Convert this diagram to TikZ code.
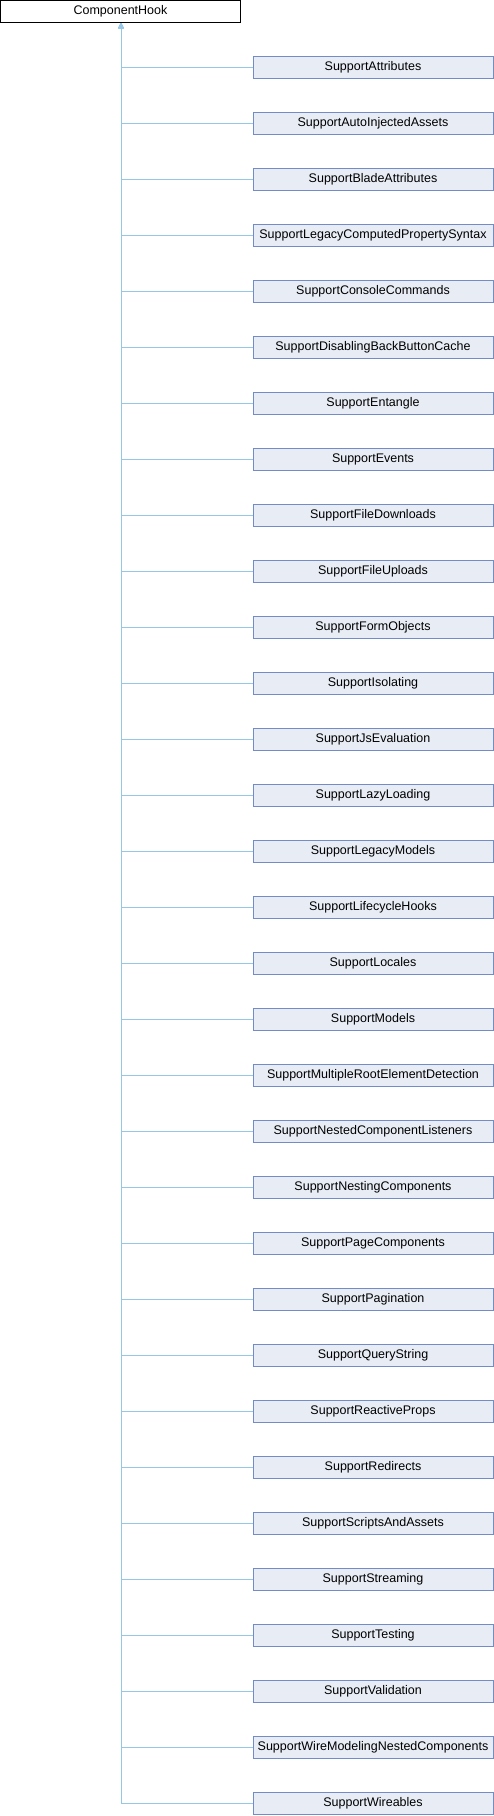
\documentclass[tikz,border=0pt]{standalone}
\usepackage{fontspec}
\setmainfont{Liberation Sans}
\usepackage{xcolor}
\usepackage{tikz}
\usetikzlibrary{arrows.meta}
\definecolor{hookedge}{RGB}{150,200,230}
\definecolor{supportfill}{RGB}{232,236,245}
\definecolor{supportdraw}{RGB}{115,140,200}
\tikzstyle{hook} = [draw=black, fill=white, line width=1pt, minimum width=240pt, minimum height=22pt, inner sep=0pt, font=\fontsize{12.5}{14}\selectfont]
\tikzstyle{support} = [draw=supportdraw, fill=supportfill, line width=1pt, minimum width=240pt, minimum height=22pt, inner sep=0pt, font=\fontsize{12.5}{14}\selectfont]
\tikzstyle{link} = [hookedge, line width=1pt, -{Triangle[width=5pt,length=5pt]}]

\begin{document}
\begin{tikzpicture}[x=1pt, y=1pt]
    \useasboundingbox (0,0) rectangle (494,-1816);
    \node[hook] (base) at (120.5,-11.5) {ComponentHook};

    \foreach \name [count=\i] in {SupportAttributes, SupportAutoInjectedAssets, SupportBladeAttributes,
        SupportLegacyComputedPropertySyntax, SupportConsoleCommands, SupportDisablingBackButtonCache,
        SupportEntangle, SupportEvents, SupportFileDownloads, SupportFileUploads, SupportFormObjects,
        SupportIsolating, SupportJsEvaluation, SupportLazyLoading, SupportLegacyModels,
        SupportLifecycleHooks, SupportLocales, SupportModels, SupportMultipleRootElementDetection,
        SupportNestedComponentListeners, SupportNestingComponents, SupportPageComponents,
        SupportPagination, SupportQueryString, SupportReactiveProps, SupportRedirects,
        SupportScriptsAndAssets, SupportStreaming, SupportTesting, SupportValidation,
        SupportWireModelingNestedComponents, SupportWireables}
    {
        \node[support] (c\i) at (373, {-67.5-56*(\i-1)}) {\name};
        \draw[link] (c\i.west) -| ([xshift=0.5pt]base.south);
    }
\end{tikzpicture}
\end{document}
